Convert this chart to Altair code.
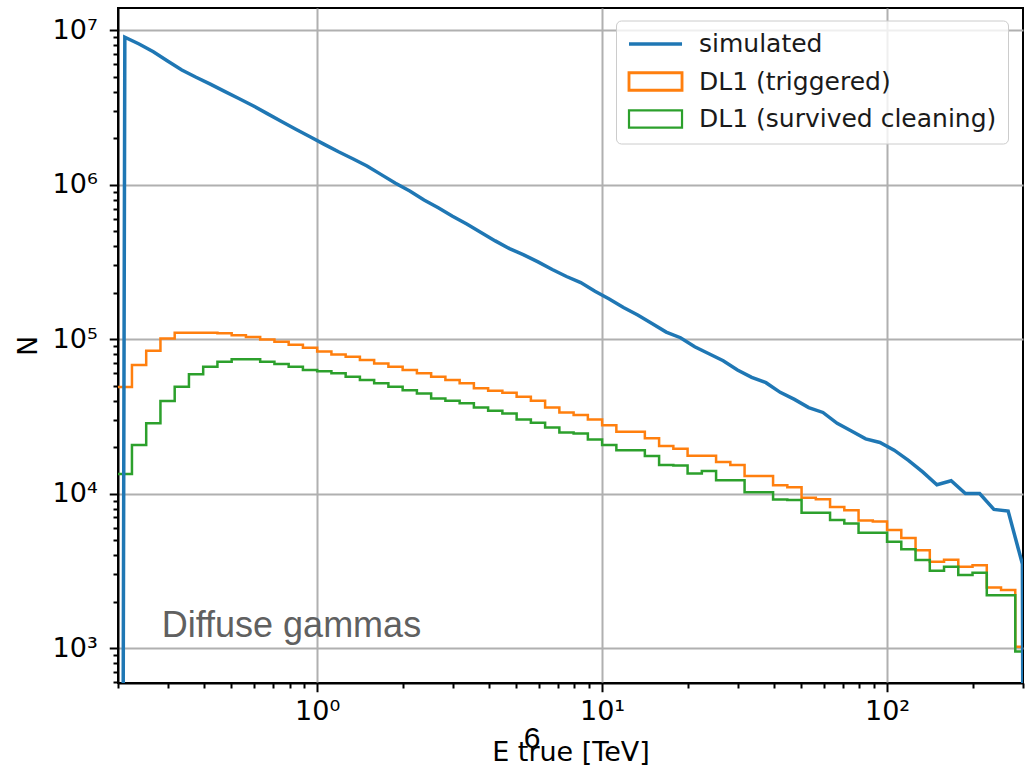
import altair as alt
import numpy as np
import pandas as pd

# ---- binning: 20 logarithmic bins per decade starting at 10^-0.7 TeV ----
bin_edges = 10 ** (-0.7 + 0.05 * np.arange(65))
bin_centers = np.sqrt(bin_edges[:-1] * bin_edges[1:])

series_names = ["simulated", "DL1 (triggered)", "DL1 (survived cleaning)"]
series_colors = ["#1f77b4", "#ff7f0e", "#2ca02c"]

simulated = [
    9.0e6, 8.13e6, 7.24e6, 6.31e6, 5.52e6, 4.95e6, 4.47e6, 4.01e6, 3.61e6, 3.24e6,
    2.88e6, 2.56e6, 2.28e6, 2.04e6, 1.82e6, 1.63e6, 1.47e6, 1.32e6, 1.16e6, 1.02e6,
    9.08e5, 7.94e5, 7.08e5, 6.24e5, 5.56e5, 4.90e5, 4.32e5, 3.85e5, 3.51e5, 3.16e5,
    2.82e5, 2.54e5, 2.32e5, 2.04e5, 1.82e5, 1.60e5, 1.43e5, 1.26e5, 1.11e5, 1.02e5,
    8.91e4, 8.04e4, 7.24e4, 6.31e4, 5.65e4, 5.22e4, 4.52e4, 4.07e4, 3.60e4, 3.35e4,
    2.85e4, 2.54e4, 2.26e4, 2.14e4, 1.91e4, 1.64e4, 1.38e4, 1.14e4, 1.21e4, 1.00e4,
    1.00e4, 7.9e3, 7.7e3, 3.5e3,
]
triggered = [
    4.9e4, 6.8e4, 8.4e4, 1.01e5, 1.10e5, 1.10e5, 1.10e5, 1.09e5, 1.06e5, 1.03e5,
    9.95e4, 9.6e4, 9.2e4, 8.8e4, 8.3e4, 7.96e4, 7.68e4, 7.31e4, 6.96e4, 6.62e4,
    6.3e4, 6.0e4, 5.7e4, 5.43e4, 5.17e4, 4.8e4, 4.63e4, 4.49e4, 4.23e4, 3.99e4,
    3.6e4, 3.35e4, 3.22e4, 3.02e4, 2.77e4, 2.51e4, 2.51e4, 2.28e4, 2.03e4, 1.95e4,
    1.76e4, 1.76e4, 1.6e4, 1.53e4, 1.30e4, 1.30e4, 1.13e4, 1.10e4, 9.4e3, 9.2e3,
    8.2e3, 7.8e3, 6.7e3, 6.6e3, 5.8e3, 5.15e3, 4.3e3, 3.62e3, 3.73e3, 3.36e3,
    3.44e3, 2.47e3, 2.38e3, 1.02e3,
]
cleaned = [
    1.34e4, 2.06e4, 2.85e4, 3.97e4, 4.91e4, 5.93e4, 6.62e4, 7.13e4, 7.39e4, 7.39e4,
    7.13e4, 6.89e4, 6.62e4, 6.3e4, 6.2e4, 6.0e4, 5.7e4, 5.43e4, 5.17e4, 4.91e4,
    4.67e4, 4.45e4, 4.13e4, 3.99e4, 3.84e4, 3.61e4, 3.44e4, 3.3e4, 3.02e4, 2.87e4,
    2.68e4, 2.48e4, 2.45e4, 2.24e4, 2.06e4, 1.91e4, 1.91e4, 1.75e4, 1.53e4, 1.52e4,
    1.35e4, 1.40e4, 1.22e4, 1.22e4, 1.02e4, 1.02e4, 9.14e3, 9.1e3, 7.5e3, 7.5e3,
    6.74e3, 6.41e3, 5.57e3, 5.57e3, 4.88e3, 4.36e3, 3.71e3, 3.17e3, 3.36e3, 2.97e3,
    3.07e3, 2.2e3, 2.2e3, 9.5e2,
]

EMPTY = 1e-30  # empty bins outside the simulated range (drawn as a drop to zero)

# simulated curve at bin centres, with empty neighbouring bins
sim_x = [10 ** -0.725] + list(bin_centers) + [10 ** 2.525]
sim_y = [EMPTY] + simulated + [EMPTY]
df_sim = pd.DataFrame({"E": sim_x, "N": sim_y, "series": series_names[0]})

# step histograms: left edges + closing right edge
df_trig = pd.DataFrame({"E": bin_edges, "N": triggered + [triggered[-1]], "series": series_names[1]})
df_clean = pd.DataFrame({"E": bin_edges, "N": cleaned + [cleaned[-1]], "series": series_names[2]})
df_all = pd.concat([df_trig, df_clean, df_sim[1:-1]], ignore_index=True)

notes = pd.DataFrame({"E": [0.2847], "N": [1178.0], "txt": ["Diffuse gammas"]})
page = pd.DataFrame({"E": [5.68], "N": [225.0], "txt": ["6"]})

# ---- axes ----
dec_test = "abs(log(datum.value)/LN10 - round(log(datum.value)/LN10)) < 0.001"
sup = "['\u2070','\u00b9','\u00b2','\u00b3','\u2074','\u2075','\u2076','\u2077']"
label_expr = f"({dec_test}) ? '10' + {sup}[round(log(datum.value)/LN10)] : ''"

x_ticks = [m * 10.0 ** e for e in (-1, 0, 1, 2) for m in range(1, 10) if 0.199 <= m * 10.0 ** e <= 300.1]
y_ticks = [m * 10.0 ** e for e in (2, 3, 4, 5, 6, 7) for m in range(1, 10) if 594 <= m * 10.0 ** e <= 1.39e7]

common_axis = dict(
    grid=True, gridColor="#b0b0b0", gridWidth=2,
    gridOpacity={"condition": {"test": dec_test, "value": 1}, "value": 0},
    tickSize={"condition": {"test": dec_test, "value": 8.75}, "value": 5},
    tickWidth=2, tickColor="black", domainColor="black", domainWidth=2,
    labelExpr=label_expr, labelFont="DejaVu Sans", labelFontSize=27, labelColor="black",
    labelOverlap=False,
    titleFont="DejaVu Sans", titleFontSize=27, titleFontWeight="normal", titleColor="black",
)
x_axis = alt.Axis(values=x_ticks, title="E true [TeV]", titlePadding=15, labelPadding=7,
                  labelFlush=False, **common_axis)
y_axis = alt.Axis(values=y_ticks, title="N", titlePadding=10, labelPadding=12, **common_axis)

x_scale = alt.Scale(type="log", domain=[0.2, 300], nice=False)
y_scale = alt.Scale(type="log", domain=[594, 1.39e7], nice=False)

X = alt.X("E:Q", scale=x_scale, axis=x_axis)
Y = alt.Y("N:Q", scale=y_scale, axis=y_axis)

trig_layer = alt.Chart(df_trig).mark_line(
    interpolate="step-after", color=series_colors[1], strokeWidth=2.5, clip=True
).encode(x=X, y=Y)
clean_layer = alt.Chart(df_clean).mark_line(
    interpolate="step-after", color=series_colors[2], strokeWidth=2.5, clip=True
).encode(x=X, y=Y)
sim_layer = alt.Chart(df_sim).mark_line(
    color=series_colors[0], strokeWidth=3.5, clip=True
).encode(x=X, y=Y)

line_path = "M-1,0L4.05,0"
box_path = "M-1,-0.83L4.05,-0.83L4.05,0.83L-1,0.83Z"
legend_props = dict(
    title=None, orient="none", legendX=498, legendY=12.5,
    labelFont="DejaVu Sans", labelFontSize=25, labelColor="#1a1a1a", labelLimit=600,
    labelOffset=47, symbolSize=441, symbolOpacity=1,
    rowPadding=9.5, padding=11, strokeColor="#cccccc",
    fillColor="rgba(255,255,255,0.8)", cornerRadius=5,
)
legend_layer = alt.Chart(df_all).mark_point(opacity=0, filled=False, clip=True).encode(
    x=X, y=Y,
    color=alt.Color("series:N", scale=alt.Scale(domain=series_names, range=series_colors),
                    legend=alt.Legend(**legend_props)),
    shape=alt.Shape("series:N", scale=alt.Scale(domain=series_names, range=[line_path, box_path, box_path]),
                    legend=alt.Legend(**legend_props)),
    strokeWidth=alt.StrokeWidth("series:N", scale=alt.Scale(domain=series_names, range=[3.5, 2.2, 2.2]),
                                legend=alt.Legend(**legend_props)),
)

note_layer = alt.Chart(notes).mark_text(
    align="left", baseline="alphabetic", font="Liberation Sans", fontSize=36, color="#606060"
).encode(x=X, y=Y, text="txt:N")
page_layer = alt.Chart(page).mark_text(
    align="center", baseline="alphabetic", font="Liberation Sans", fontSize=30, color="black"
).encode(x=X, y=Y, text="txt:N")

chart = alt.layer(
    trig_layer, clean_layer, sim_layer, legend_layer, note_layer, page_layer
).properties(
    width=905, height=675,
    autosize=alt.AutoSizeParams(type="none"),
    padding={"left": 118, "top": 8, "right": 9, "bottom": 90},
    background="white",
).configure_view(stroke="black", strokeWidth=2)

chart.save("out.html", embed_options={"renderer": "svg", "actions": False})
